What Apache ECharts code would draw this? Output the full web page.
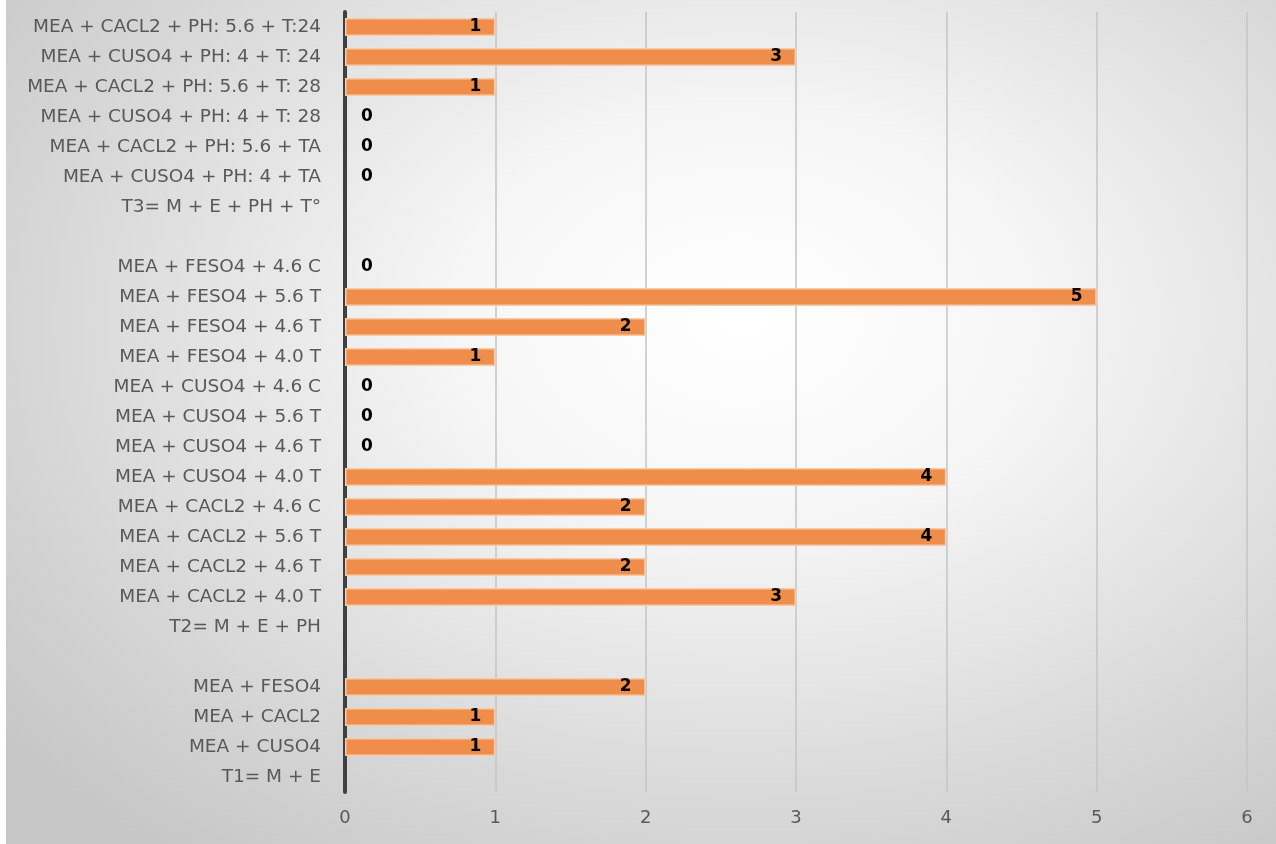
<!DOCTYPE html>
<html>
<head>
    <meta charset="UTF-8">
    <title>Résultats</title>
    <script src="https://cdn.jsdelivr.net/npm/echarts@6/dist/echarts.min.js"></script>
    <style>
        html, body {margin: 0; padding: 0; background: #fff;}
        #bg {position: absolute; left: 6px; top: 0; width: 1270px; height: 844px;
            background: radial-gradient(ellipse 75% 80% at 58% 38%, #ffffff 0%, #f6f6f6 30%, #d6d6d6 75%, #c6c6c6 100%);}
        #main {position: absolute; left: 0; top: 0; width: 1276px; height: 844px;}
    </style>
</head>
<body>
<div id="bg"></div>
<div id="main"></div>
<script>
    // rows from top to bottom
    var categories = [
        'MEA + CACL2 + PH: 5.6 + T:24',
        'MEA + CUSO4 + PH: 4 + T: 24',
        'MEA + CACL2 + PH: 5.6 + T: 28',
        'MEA + CUSO4 + PH: 4 + T: 28',
        'MEA + CACL2 + PH: 5.6 + TA',
        'MEA + CUSO4 + PH: 4 + TA',
        'T3= M + E + PH + T°',
        ' ',
        'MEA + FESO4 + 4.6 C',
        'MEA + FESO4 + 5.6 T',
        'MEA + FESO4 + 4.6 T',
        'MEA + FESO4 + 4.0 T',
        'MEA + CUSO4 + 4.6 C',
        'MEA + CUSO4 + 5.6 T',
        'MEA + CUSO4 + 4.6 T',
        'MEA + CUSO4 + 4.0 T',
        'MEA + CACL2 + 4.6 C',
        'MEA + CACL2 + 5.6 T',
        'MEA + CACL2 + 4.6 T',
        'MEA + CACL2 + 4.0 T',
        'T2= M + E + PH',
        '  ',
        'MEA + FESO4',
        'MEA + CACL2',
        'MEA + CUSO4',
        'T1= M + E'
    ];
    var values = [1, 3, 1, 0, 0, 0, null, null, 0, 5, 2, 1, 0, 0, 0, 4, 2, 4, 2, 3, null, null, 2, 1, 1, null];
    var xTicks = [0, 1, 2, 3, 4, 5, 6];

    var barData = values.map(function (v) {
        if (v === 0) {
            return {value: v, itemStyle: {borderWidth: 0}, label: {position: 'right', distance: 16}};
        }
        return v;
    });

    var font = 'DejaVu Sans';
    var chart = echarts.init(document.getElementById('main'));
    var option = {
        backgroundColor: 'transparent',
        animation: false,
        grid: {left: 345, right: 29, top: 12, bottom: 52},
        xAxis: {
            type: 'value',
            min: xTicks[0],
            max: xTicks[xTicks.length - 1],
            interval: 1,
            axisLine: {show: false},
            axisTick: {show: false},
            splitLine: {lineStyle: {color: '#c4c4c4', width: 1.5}},
            axisLabel: {color: '#595959', fontSize: 18, margin: 17, fontFamily: font}
        },
        yAxis: {
            type: 'category',
            inverse: true,
            data: categories,
            axisLine: {lineStyle: {color: '#404040', width: 4}},
            axisTick: {show: false},
            axisLabel: {color: '#595959', fontSize: 18.5, margin: 24, fontFamily: font}
        },
        series: [{
            type: 'bar',
            data: barData,
            barWidth: 18,
            itemStyle: {color: '#ef8e4a', borderColor: '#f8c9a6', borderWidth: 1.5},
            label: {
                show: true,
                position: 'insideRight',
                distance: 14,
                color: '#000',
                fontWeight: 'bold',
                fontSize: 17,
                fontFamily: font
            }
        }]
    };
    chart.setOption(option);
</script>
</body>
</html>
